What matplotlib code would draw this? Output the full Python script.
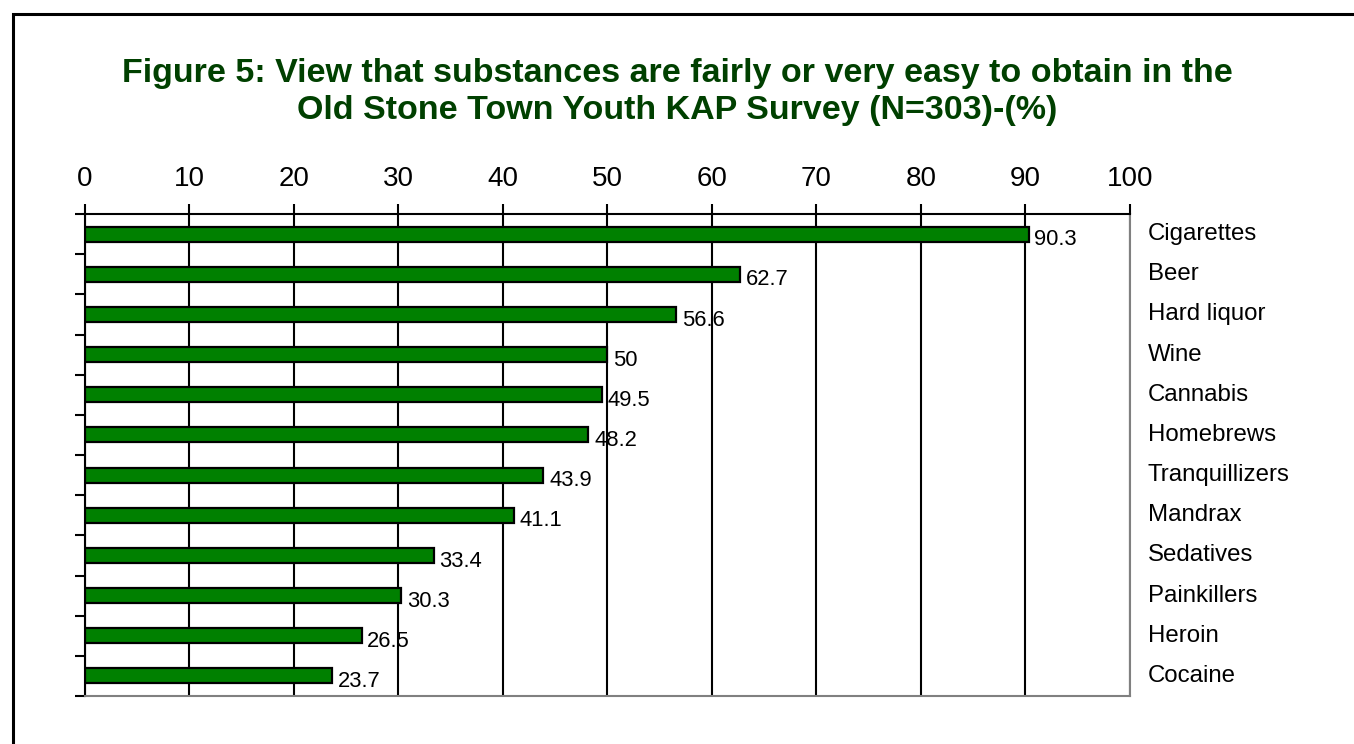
import matplotlib.pyplot as plt
from matplotlib.patches import Rectangle

plt.rcParams['font.family'] = ['Liberation Sans', 'DejaVu Sans']

# 数据
substances = ['Cigarettes', 'Beer', 'Hard liquor', 'Wine', 'Cannabis', 'Homebrews',
              'Tranquillizers', 'Mandrax', 'Sedatives', 'Painkillers', 'Heroin', 'Cocaine']
values = [90.3, 62.7, 56.6, 50, 49.5, 48.2, 43.9, 41.1, 33.4, 30.3, 26.5, 23.7]
value_labels = ['90.3', '62.7', '56.6', '50', '49.5', '48.2', '43.9', '41.1',
                '33.4', '30.3', '26.5', '23.7']
x_ticks = [0, 10, 20, 30, 40, 50, 60, 70, 80, 90, 100]

fig = plt.figure(figsize=(13.54, 7.44), dpi=100)
ax = fig.add_axes([84.5 / 1354, 48 / 744, (1130 - 84.5) / 1354, (696 - 214) / 744])

pos = list(range(len(substances)))
ax.barh(pos, values, height=0.37, color='#008000', edgecolor='black',
        linewidth=1.6, zorder=3)

ax.set_xlim(0, 100)
ax.set_ylim(len(substances) - 0.5, -0.5)

# 数值标签
for p, v, s in zip(pos, values, value_labels):
    ax.text(v + 0.55, p + 0.14, s, ha='left', va='center', fontsize=15.8, zorder=4)

# 右侧类别标签
for p, name in zip(pos, substances):
    ax.text(101.7, p, name, ha='left', va='center', fontsize=17.3, clip_on=False)

# 坐标轴
ax.xaxis.tick_top()
ax.set_xticks(x_ticks)
ax.set_xticklabels([str(t) for t in x_ticks], fontsize=20)
ax.tick_params(axis='x', direction='out', length=7, width=1.5, pad=8.5, color='black')
ax.set_yticks([p - 0.5 for p in pos] + [len(substances) - 0.5])
ax.set_yticklabels([])
ax.tick_params(axis='y', direction='out', length=7, width=1.5, color='black')
ax.grid(axis='x', color='black', linewidth=1.5, zorder=0)
ax.set_axisbelow(True)

ax.spines['top'].set_color('black')
ax.spines['top'].set_linewidth(1.5)
ax.spines['left'].set_color('black')
ax.spines['left'].set_linewidth(1.5)
ax.spines['right'].set_color('#808080')
ax.spines['right'].set_linewidth(1.5)
ax.spines['bottom'].set_color('#808080')
ax.spines['bottom'].set_linewidth(1.5)

# 标题
fig.text(0.5, 1 - 92 / 744,
         'Figure 5: View that substances are fairly or very easy to obtain in the\n'
         'Old Stone Town Youth KAP Survey (N=303)-(%)',
         ha='center', va='center', fontsize=24.5, fontweight='bold',
         color='#004000', linespacing=1.22)

# 外框
frame = Rectangle((12.5 / 1354, -0.1), 1.2, 1 - 13.5 / 744 + 0.1,
                  transform=fig.transFigure, fill=False, edgecolor='black',
                  linewidth=2.2, clip_on=False)
fig.patches.append(frame)

plt.savefig('out.png', dpi=100)
